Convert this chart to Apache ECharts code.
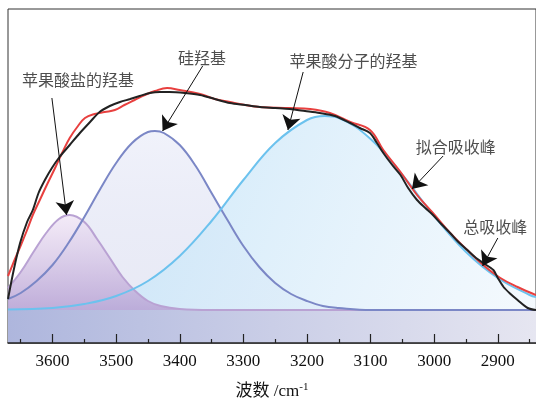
<!DOCTYPE html>
<html>
<head>
<meta charset="utf-8">
<style>
  html, body { margin: 0; padding: 0; background: #fff; }
  #chart { width: 536px; height: 398px; }
</style>
<script src="https://cdn.jsdelivr.net/npm/echarts@6/dist/echarts.min.js"></script>
</head>
<body>
<div id="chart"></div>
<script>
// 红外谱图 羟基区分峰拟合
const tickWn = [3600, 3500, 3400, 3300, 3200, 3100, 3000, 2900]
const minorWn = [3650, 3550, 3450, 3350, 3250, 3150, 3050, 2950, 2850]

// 总吸收峰 (实测)
const totalWn = [3670, 3661, 3651, 3640, 3631, 3622, 3612, 3601, 3589, 3573, 3557, 3541, 3526, 3510, 3494, 3478, 3463, 3447, 3431, 3416, 3392, 3368, 3345, 3321, 3297, 3274, 3250, 3227, 3203, 3180, 3156, 3132, 3117, 3101, 3090, 3080, 3066, 3053, 3041, 3027, 3014, 3002, 2989, 2975, 2962, 2948, 2936, 2923, 2907, 2900, 2891, 2880, 2869, 2853, 2840]
const totalAbs = [44, 73, 100, 121, 133, 150, 163, 175, 186, 198, 210, 221, 231, 237, 241, 244, 247, 250, 251, 251, 250, 248, 244, 240, 238, 236, 235, 234, 232, 230, 227, 220, 215, 210, 200, 190, 178, 168, 155, 143, 135, 128, 119, 110, 101, 93, 86, 80, 73, 65, 56, 49, 43, 35, 33]

// 拟合吸收峰
const fitWn = [3670, 3661, 3651, 3640, 3631, 3620, 3609, 3596, 3585, 3573, 3560, 3549, 3534, 3518, 3502, 3487, 3471, 3455, 3439, 3420, 3400, 3368, 3345, 3321, 3297, 3274, 3227, 3195, 3164, 3132, 3101, 3080, 3053, 3027, 3002, 2975, 2948, 2923, 2896, 2869, 2840]
const fitAbs = [67, 81, 96, 113, 128, 143, 158, 175, 190, 205, 217, 225, 229, 231, 233, 238, 243, 248, 252, 255, 253, 249, 244, 241, 238, 236, 235, 234, 230, 221, 213, 193, 171, 148, 130, 110, 93, 78, 65, 56, 48]

// 苹果酸盐的羟基
const saltWn = [3670, 3650, 3630, 3610, 3590, 3573, 3550, 3530, 3510, 3490, 3470, 3450, 3430, 3400, 3350, 2840]
const saltAbs = [55, 71, 91, 110, 124, 128, 121, 104, 85, 66, 52, 42, 37, 34, 33, 33]

// 硅羟基
const siWn = [3670, 3650, 3625, 3600, 3575, 3550, 3525, 3500, 3475, 3450, 3439, 3425, 3400, 3375, 3350, 3325, 3300, 3275, 3250, 3225, 3200, 3175, 3150, 3100, 2840]
const siAbs = [44, 50, 62, 78, 100, 126, 154, 180, 200, 211, 212, 210, 198, 177, 150, 123, 97, 76, 60, 49, 42, 37, 35, 33, 33]

// 苹果酸分子的羟基
const acidWn = [3670, 3600, 3550, 3500, 3450, 3400, 3350, 3300, 3250, 3200, 3172, 3150, 3100, 3050, 3000, 2950, 2900, 2850, 2840]
const acidAbs = [33.5, 35, 39, 47, 62, 87, 122, 163, 200, 223, 227, 225, 204, 168, 127, 91, 65, 48, 46]

const baseWn = [3670, 2840]
const baseAbs = [33, 33]

// 标注文字与箭头
const noteText = ['苹果酸盐的羟基', '硅羟基', '苹果酸分子的羟基', '拟合吸收峰', '总吸收峰']
const notePos = [[3560, 263], [3365, 285], [3127, 282], [2966, 196], [2904, 116]]
const arrowFrom = [[3601, 245], [3364, 277], [3206, 271], [2986, 187], [2900, 105]]
const arrowTo = [[3578, 128], [3427, 212], [3230, 213], [3035, 154], [2924, 77]]

const zip = (a, b) => a.map((v, i) => [v, b[i]])

const serif = "'Liberation Serif', 'Noto Sans CJK SC', serif"
const cjk = "'Noto Sans CJK SC', sans-serif"

const chart = echarts.init(document.getElementById('chart'))

function grad(x2, y2, c0, c1) {
  return new echarts.graphic.LinearGradient(0, 0, x2, y2, [
    { offset: 0, color: c0 },
    { offset: 1, color: c1 },
  ])
}

// 面积和曲线分开画，曲线压在所有填充之上
function peakFill(wn, abs, fill, z) {
  return {
    type: 'line',
    data: zip(wn, abs),
    smooth: 0.4,
    symbol: 'none',
    z,
    lineStyle: { width: 0 },
    areaStyle: { color: fill, origin: 33, opacity: 1 },
  }
}
function peakLine(name, wn, abs, color, z) {
  return {
    name,
    type: 'line',
    data: zip(wn, abs),
    smooth: 0.4,
    symbol: 'none',
    z,
    lineStyle: { color, width: 2 },
  }
}

const option = {
  animation: false,
  backgroundColor: '#fff',
  grid: {
    left: 8,
    right: 0,
    top: 9,
    bottom: 55,
    outerBoundsMode: 'none',
    show: true,
    borderColor: '#333',
    borderWidth: 1,
  },
  xAxis: [
    {
      type: 'value',
      min: 2840,
      max: 3670,
      inverse: true,
      z: 10,
      splitLine: { show: false },
      axisLine: { lineStyle: { color: '#222', width: 1.5 } },
      axisTick: { inside: true, length: 9, customValues: tickWn, lineStyle: { color: '#222', width: 1.2 } },
      axisLabel: {
        customValues: tickWn,
        formatter: v => String(v),
        margin: 10,
        color: '#111',
        fontFamily: serif,
        fontSize: 17,
      },
      name: '{a|波数 /cm}{b|-1}',
      nameLocation: 'middle',
      nameGap: 39,
      nameTextStyle: {
        rich: {
          a: { fontFamily: serif, fontSize: 17, color: '#111', lineHeight: 20 },
          b: { fontFamily: serif, fontSize: 11, color: '#111', verticalAlign: 'top', lineHeight: 20 },
        },
      },
    },
    {
      type: 'value',
      min: 2840,
      max: 3670,
      inverse: true,
      position: 'bottom',
      offset: 0,
      z: 10,
      splitLine: { show: false },
      axisLine: { show: false },
      axisLabel: { show: false },
      axisTick: { show: true, inside: true, length: 4, customValues: minorWn, lineStyle: { color: '#222', width: 1.2 } },
    },
  ],
  yAxis: {
    type: 'value',
    min: 0,
    max: 334,
    show: false,
  },
  series: [
    {
      name: 'base',
      type: 'line',
      data: zip(baseWn, baseAbs),
      symbol: 'none',
      z: 1,
      lineStyle: { width: 0 },
      areaStyle: { color: grad(1, 0, '#aeb6dd', '#e6e6f1'), opacity: 1 },
    },
    peakFill(siWn, siAbs, grad(0, 1, 'rgba(238,240,250,0.85)', 'rgba(214,217,238,0.55)'), 2),
    peakFill(acidWn, acidAbs, grad(1, 1, 'rgba(190,225,247,0.92)', 'rgba(240,247,253,0.7)'), 2),
    peakFill(saltWn, saltAbs, grad(0, 1, 'rgba(238,226,244,0.7)', 'rgba(184,162,212,0.85)'), 2),
    peakLine('苹果酸盐的羟基', saltWn, saltAbs, '#b9a2d3', 3),
    peakLine('硅羟基', siWn, siAbs, '#7b87c6', 4),
    peakLine('苹果酸分子的羟基', acidWn, acidAbs, '#6cc2ee', 4),
    {
      name: '总吸收峰',
      type: 'line',
      data: zip(totalWn, totalAbs),
      smooth: 0.3,
      symbol: 'none',
      z: 6,
      lineStyle: { color: '#222', width: 2 },
    },
    {
      name: '拟合吸收峰',
      type: 'line',
      data: zip(fitWn, fitAbs),
      smooth: 0.4,
      symbol: 'none',
      z: 5,
      lineStyle: { color: '#e8403f', width: 2 },
    },
    {
      name: 'arrows',
      type: 'lines',
      coordinateSystem: 'cartesian2d',
      z: 7,
      symbol: ['none', 'arrow'],
      symbolSize: [7, 14],
      lineStyle: { color: '#111', width: 1, opacity: 1 },
      data: arrowFrom.map((p, i) => ({ coords: [p, arrowTo[i]] })),
    },
    {
      name: 'notes',
      type: 'scatter',
      symbolSize: 0,
      z: 8,
      data: noteText.map((t, i) => ({ name: t, value: notePos[i] })),
      label: {
        show: true,
        position: 'inside',
        formatter: '{b}',
        fontFamily: cjk,
        fontSize: 16,
        color: '#222',
      },
    },
  ],
}

chart.setOption(option)
</script>
</body>
</html>
